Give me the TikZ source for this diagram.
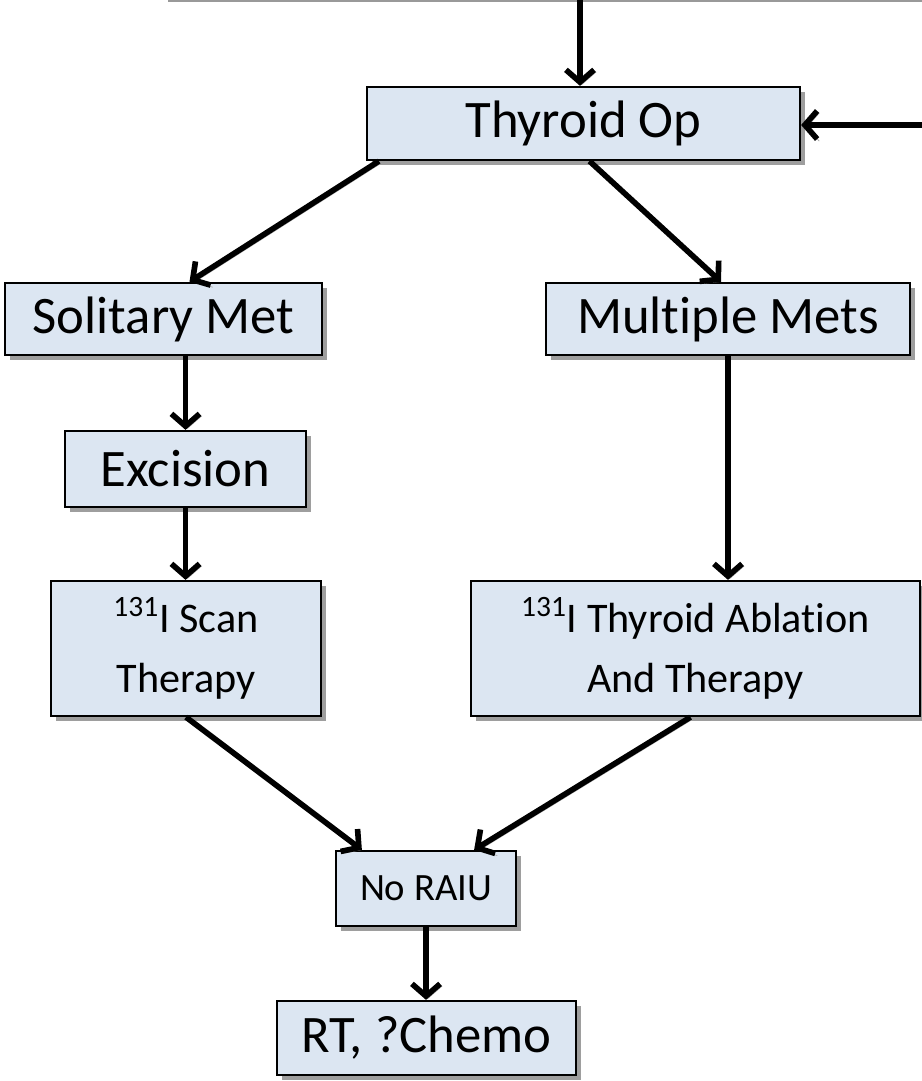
\documentclass[tikz,border=0pt]{standalone}
\usepackage{fontspec}
\setmainfont[Ligatures={NoCommon}]{Carlito}
\usetikzlibrary{arrows.meta,shadows}
\definecolor{boxblue}{RGB}{220,230,242}
\tikzset{
  box/.style={draw=black, line width=1.3pt, fill=boxblue, inner sep=0pt, align=center,
    drop shadow={shadow xshift=2.6pt, shadow yshift=-2.6pt, fill=black!38, opacity=1}},
  big/.style={font=\fontsize{30}{34}\selectfont},
  mid/.style={font=\fontsize{24}{34}\selectfont},
  arr/.style={line width=3.2pt, -{Straight Barb[length=7pt,width=16pt]},
    preaction={draw=black!35, transform canvas={shift={(1.2pt,-1.2pt)}}}},
}
\begin{document}
\begin{tikzpicture}[x=0.02cm, y=-0.02cm]
    \useasboundingbox (0,0) rectangle (922,1081);
    \draw[black!40, line width=1.2pt] (168,1) -- (922,1);

    \coordinate (top) at (580,0);
    \coordinate (rin) at (922,125);

    \node[box, big, minimum width=8.66cm, minimum height=1.46cm] (op) at (583.5,123.5) {Thyroid Op};
    \node[box, big, minimum width=6.34cm, minimum height=1.44cm] (sol) at (163.5,319) {Solitary Met};
    \node[box, big, minimum width=7.28cm, minimum height=1.44cm] (mul) at (728,319) {Multiple Mets};
    \node[box, big, minimum width=4.82cm, minimum height=1.52cm] (exc) at (185.5,469) {Excision};
    \node[box, mid, minimum width=5.4cm, minimum height=2.7cm] (scan) at (186,648.5) {\textsuperscript{131}I Scan\\Therapy};
    \node[box, mid, minimum width=8.98cm, minimum height=2.7cm] (abl) at (695.5,648.5) {\textsuperscript{131}I Thyroid Ablation\\And Therapy};
    \node[box, font=\fontsize{22}{26}\selectfont, minimum width=3.6cm, minimum height=1.5cm] (rai) at (426,888.5) {No RAIU};
    \node[box, big, minimum width=5.98cm, minimum height=1.48cm] (rt) at (426.5,1038) {RT, ?Chemo};

    \draw[arr] (top) -- (top |- op.north);
    \draw[arr] (rin) -- (rin -| op.east);
    \draw[arr] ([xshift=13*0.02cm]op.south west) -- ([xshift=26*0.02cm]sol.north);
    \draw[arr] ([xshift=6*0.02cm]op.south) -- ([xshift=-7*0.02cm]mul.north);
    \draw[arr] (exc.north |- sol.south) -- (exc.north);
    \draw[arr] (exc.south) -- (exc.south |- scan.north);
    \draw[arr] (mul.south) -- (mul.south |- abl.north);
    \draw[arr] (scan.south) -- ([xshift=27*0.02cm]rai.north west);
    \draw[arr] ([xshift=-5*0.02cm]abl.south) -- ([xshift=-43*0.02cm]rai.north east);
    \draw[arr] (rai.south) -- (rai.south |- rt.north);
\end{tikzpicture}
\end{document}
